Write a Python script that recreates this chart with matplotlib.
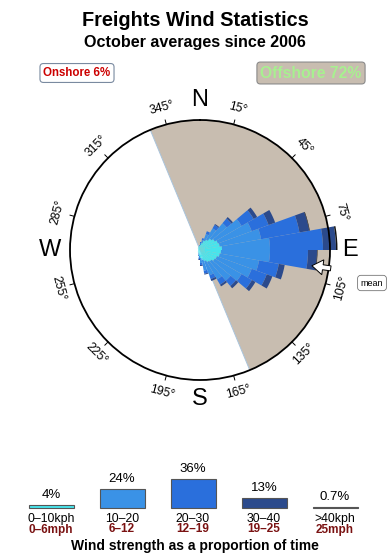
import numpy as np
import matplotlib
matplotlib.use("Agg")
import matplotlib.pyplot as plt

plt.rcParams['font.family'] = ['Liberation Sans', 'DejaVu Sans']

# direction bins (start bearing, 10 deg wide) and stacked amounts per speed class
bearings = list(range(0, 360, 10))
speed_0_10 = [5, 7, 10, 12, 15, 17, 19, 20, 22, 21, 20, 18, 17, 15, 14, 12, 10, 8,
              6, 4, 3, 3, 3, 2, 2, 2, 2, 2, 2, 2, 2, 3, 3, 3, 4, 4]
speed_10_20 = [2, 3, 7, 13, 20, 31, 36, 42, 48, 49, 40, 37, 31, 25, 20, 15, 11, 5,
               2, 1, 1, 0, 0, 0, 0, 0, 0, 0, 0, 0, 0, 0, 0, 0, 0, 1]
speed_20_30 = [1, 2, 3, 4, 6, 14, 18, 39, 53, 38, 20, 16, 12, 7, 6, 4, 3, 2,
               1, 1, 0, 0, 0, 0, 0, 0, 0, 0, 0, 0, 0, 0, 0, 0, 0, 0]
speed_30_40 = [0, 0, 0, 1, 2, 4, 7, 10, 13, 9, 6, 6, 4, 3, 2, 2, 1, 1,
               1, 0, 0, 0, 0, 0, 0, 0, 0, 0, 0, 0, 0, 0, 0, 0, 0, 0]
speed_40 = [0, 0, 0, 0, 0, 0, 0, 0.5, 1.5, 0.5, 0, 0, 0, 0, 0, 0, 0, 0,
            0, 0, 0, 0, 0, 0, 0, 0, 0, 0, 0, 0, 0, 0, 0, 0, 0, 0]
rmax = 130

offshore_from, offshore_to = 337.5, 157.5
onshore_pct, offshore_pct = 6, 72
mean_dir = 98

# legend
classes_kph = ['0\u201310kph', '10\u201320', '20\u201330', '30\u201340', '>40kph']
classes_mph = ['0\u20136mph', '6\u201312', '12\u201319', '19\u201325', '25mph']
class_pct = [4, 24, 36, 13, 0.7]
colors = ['#48e4ec', '#3a92e6', '#2a6fdc', '#2b4a8c', '#111111']

tick_angles = [15, 45, 75, 105, 135, 165, 195, 225, 255, 285, 315, 345]
cardinals = {'N': 0, 'E': 90, 'S': 180, 'W': 270}

fig = plt.figure(figsize=(3.9, 5.6), dpi=100)

# pixel overlay for texts and legend (drawn above the rose)
ov = fig.add_axes([0, 0, 1, 1])
ov.set_xlim(0, 390)
ov.set_ylim(560, 0)
ov.axis('off')
ov.set_zorder(5)

ov.text(195, 20, 'Freights Wind Statistics', ha='center', va='center',
        fontsize=14.3, fontweight='bold')
ov.text(195, 42, 'October averages since 2006', ha='center', va='center',
        fontsize=11.6, fontweight='bold')
ov.text(77, 73, f'Onshore {onshore_pct}%', ha='center', va='center', fontsize=8.3,
        fontweight='bold', color='#cc0000',
        bbox=dict(boxstyle='round,pad=0.3', fc='white', ec='#7a8aa0', lw=0.8))
ov.text(311, 73, f'Offshore {offshore_pct}%', ha='center', va='center', fontsize=11.3,
        fontweight='bold', color='#a8f090',
        bbox=dict(boxstyle='round,pad=0.22', fc='#c8bdb0', ec='#8a8a8a', lw=0.8))

xs = [51, 122, 193, 264, 335]
base = 508
hs = [p * 0.8 for p in class_pct]
ov.bar(xs, [-max(h, 1.2) for h in hs], bottom=base, width=45, color=colors,
       edgecolor='#555555', linewidth=0.8)
for x, h, p, k, m in zip(xs, hs, class_pct, classes_kph, classes_mph):
    ov.text(x, base - max(h, 1.2) - 10, f'{p:g}%', ha='center', va='center', fontsize=9.5)
    ov.text(x, 519, k, ha='center', va='center', fontsize=8.8)
    ov.text(x, 529.5, m, ha='center', va='center', fontsize=8.5,
            fontweight='bold', color='#7a1212')
ov.text(195, 546, 'Wind strength as a proportion of time', ha='center', va='center',
        fontsize=10, fontweight='bold')

# polar rose
cx, cy, R = 200, 250, 130
ax = fig.add_axes([(cx - R) / 390, (560 - cy - R) / 560, 2 * R / 390, 2 * R / 560],
                  projection='polar')
ax.set_theta_zero_location('N')
ax.set_theta_direction(-1)
ax.set_ylim(0, rmax)
ax.set_xticks([])
ax.set_yticks([])
ax.grid(False)
ax.patch.set_alpha(0)
ax.spines['polar'].set_linewidth(1.3)

span = (offshore_to - offshore_from) % 360
ax.bar(np.deg2rad(offshore_from + span / 2), rmax, width=np.deg2rad(span),
       color='#c8bdb0', linewidth=0, zorder=1)
for a in (offshore_from, offshore_to):
    ax.plot([np.deg2rad(a)] * 2, [0, rmax], color='#a9c4dc', lw=0.7, zorder=1.5)

theta = np.deg2rad(np.array(bearings) + 5)
width = np.deg2rad(10)
bottom = np.zeros(len(bearings))
for vals, c in zip([speed_0_10, speed_10_20, speed_20_30, speed_30_40, speed_40], colors):
    ax.bar(theta, vals, width=width, bottom=bottom, color=c, linewidth=0,
           zorder=2, clip_on=False)
    bottom = bottom + np.array(vals)

for a in tick_angles:
    t = np.deg2rad(a)
    ax.plot([t, t], [rmax, rmax * 1.035], color='black', lw=0.7, clip_on=False)
    rot = -a
    if 90 < a < 270:
        rot += 180
    ax.text(t, rmax * 1.13, f'{a}\u00b0', rotation=rot, rotation_mode='anchor',
            ha='center', va='center', fontsize=8.7, clip_on=False)

for name, a in cardinals.items():
    ax.text(np.deg2rad(a), rmax * 1.15, name, ha='center', va='center',
            fontsize=17, clip_on=False)

# mean direction arrow, drawn in pixel coordinates
t = np.deg2rad(mean_dir)
x0, y0 = cx + 132 * np.sin(t), cy - 132 * np.cos(t)
x1, y1 = cx + 113 * np.sin(t), cy - 113 * np.cos(t)
ov.arrow(x0, y0, x1 - x0, y1 - y0, width=5, head_width=15, head_length=11,
         length_includes_head=True, fc='white', ec='black', lw=0.7)
ov.text(372, 283, 'mean', ha='center', va='center', fontsize=6.5,
        bbox=dict(boxstyle='round,pad=0.35', fc='white', ec='#777777', lw=0.6))

fig.savefig('out.png', dpi=100)
